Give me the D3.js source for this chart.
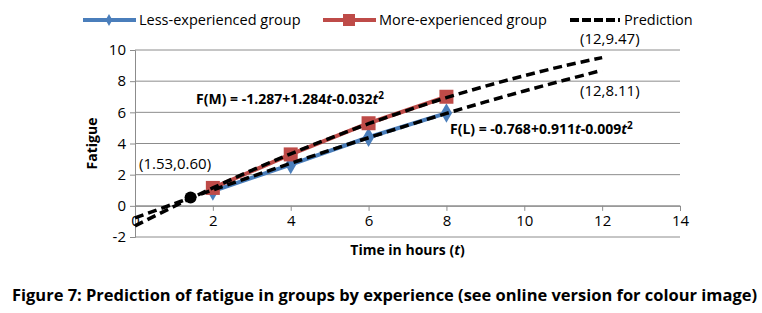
<!DOCTYPE html>
<html><head><meta charset="utf-8">
<script src="https://cdn.jsdelivr.net/npm/d3@7"></script>
<style>body{margin:0;background:#fff}svg{display:block}text{font-family:"Open Sans","DejaVu Sans",sans-serif}</style>
</head><body>
<script>
const hours = [2, 4, 6, 8];
const lessGroup = [0.95, 2.65, 4.4, 5.95];
const moreGroup = [1.15, 3.3, 5.3, 7.0];
const predHours = [0,1,2,3,4,5,6,7,8,9,10,11,12];
const predMore = [-1.29,-0.04,1.15,2.28,3.34,4.33,5.27,6.13,6.94,7.68,8.35,8.97,9.51];
const predLess = [-0.77,0.13,1.02,1.88,2.73,3.56,4.37,5.16,5.93,6.67,7.37,8.04,8.70];
const crossPoint = [1.53, 0.60];
const xTicks = [0,2,4,6,8,10,12,14];
const yTicks = [-2,0,2,4,6,8,10];
const legendLabels = ["Less-experienced group","More-experienced group","Prediction"];
const colors = {less:"#4a7ebb", more:"#be4b48"};

const W=762,H=313;
const svg=d3.select("body").append("svg").attr("width",W).attr("height",H);
const x=d3.scaleLinear().domain([0,14]).range([135,680]);
const y=d3.scaleLinear().domain([-2,10]).range([237,50]);

// gridlines
svg.append("g").selectAll("line").data(yTicks).join("line")
 .attr("x1",x(0)).attr("x2",x(14)).attr("y1",d=>y(d)).attr("y2",d=>y(d))
 .attr("stroke","#8c8c8c").attr("stroke-width",1);
// y axis
const ya=svg.append("g").attr("transform",`translate(${x(0)},0)`)
 .call(d3.axisLeft(y).tickValues(yTicks).tickSize(5).tickFormat(d=>String(d)));
ya.select(".domain").attr("stroke","#8c8c8c");
ya.selectAll(".tick line").attr("stroke","#8c8c8c");
ya.selectAll("text").attr("font-size",15).attr("fill","#000").attr("x",-9);
// x axis at y=0
const xa=svg.append("g").attr("transform",`translate(0,${y(0)})`)
 .call(d3.axisBottom(x).tickValues(xTicks).tickSize(5).tickFormat(d=>String(d)));
xa.select(".domain").attr("stroke","#8c8c8c");
xa.selectAll(".tick line").attr("stroke","#8c8c8c");
xa.selectAll("text").attr("font-size",15).attr("fill","#000").attr("dy","1em").attr("y",5);

// series lines
const line=d3.line().x(d=>x(d[0])).y(d=>y(d[1]));
svg.append("path").attr("d",line(hours.map((h,i)=>[h,lessGroup[i]])))
 .attr("fill","none").attr("stroke",colors.less).attr("stroke-width",4);
svg.append("path").attr("d",line(hours.map((h,i)=>[h,moreGroup[i]])))
 .attr("fill","none").attr("stroke",colors.more).attr("stroke-width",4);
// markers
svg.append("g").selectAll("path").data(hours.map((h,i)=>[h,lessGroup[i]])).join("path")
 .attr("d",d3.symbol(d3.symbolDiamond,110)).attr("transform",d=>`translate(${x(d[0])},${y(d[1])})`)
 .attr("fill",colors.less);
svg.append("g").selectAll("rect").data(hours.map((h,i)=>[h,moreGroup[i]])).join("rect")
 .attr("x",d=>x(d[0])-7).attr("y",d=>y(d[1])-7).attr("width",14).attr("height",14)
 .attr("fill",colors.more);
// prediction curves
const curve=d3.line().curve(d3.curveCatmullRom).x(d=>x(d[0])).y(d=>y(d[1]));
[predMore,predLess].forEach(arr=>{
 svg.append("path").attr("d",curve(predHours.map((h,i)=>[h,arr[i]])))
  .attr("fill","none").attr("stroke","#000").attr("stroke-width",3.5)
  .attr("stroke-dasharray","9,5");
});
svg.append("circle").attr("cx",x(crossPoint[0])-4).attr("cy",y(crossPoint[1])+1).attr("r",6).attr("fill","#000");

// annotations
const ann=svg.append("g").attr("font-size",15).attr("fill","#000");
ann.append("text").attr("x",139).attr("y",169).text(`(${crossPoint[0]},${crossPoint[1].toFixed(2)})`);
ann.append("text").attr("x",580).attr("y",44).text(`(12,9.47)`);
ann.append("text").attr("x",580).attr("y",96).text(`(12,8.11)`);
const fm=ann.append("text").attr("x",196).attr("y",104).attr("font-weight","bold").attr("font-size",14);
fm.append("tspan").text("F(M) = -1.287+1.284");
fm.append("tspan").attr("font-style","italic").text("t");
fm.append("tspan").text("-0.032");
fm.append("tspan").attr("font-style","italic").text("t");
fm.append("tspan").attr("dy",-5).attr("font-size",10).text("2");
const fl=ann.append("text").attr("x",450).attr("y",134).attr("font-weight","bold").attr("font-size",14);
fl.append("tspan").text("F(L) = -0.768+0.911");
fl.append("tspan").attr("font-style","italic").text("t");
fl.append("tspan").text("-0.009");
fl.append("tspan").attr("font-style","italic").text("t");
fl.append("tspan").attr("dy",-5).attr("font-size",10).text("2");

// axis titles
svg.append("text").attr("transform",`translate(97,${(y(-2)+y(10))/2}) rotate(-90)`)
 .attr("text-anchor","middle").attr("font-size",14).attr("font-weight","bold").text("Fatigue");
const xt=svg.append("text").attr("x",(x(0)+x(14))/2).attr("y",255).attr("text-anchor","middle")
 .attr("font-size",14).attr("font-weight","bold");
xt.append("tspan").text("Time in hours (");
xt.append("tspan").attr("font-style","italic").text("t");
xt.append("tspan").text(")");

// legend
const lg=svg.append("g").attr("font-size",14.5);
lg.append("line").attr("x1",83).attr("x2",136).attr("y1",20).attr("y2",20).attr("stroke",colors.less).attr("stroke-width",4);
lg.append("path").attr("d",d3.symbol(d3.symbolDiamond,40)).attr("transform","translate(109,20)").attr("fill",colors.less);
lg.append("text").attr("x",139).attr("y",25).text(legendLabels[0]);
lg.append("line").attr("x1",323).attr("x2",376).attr("y1",20).attr("y2",20).attr("stroke",colors.more).attr("stroke-width",4);
lg.append("rect").attr("x",343).attr("y",14).attr("width",12).attr("height",12).attr("fill",colors.more);
lg.append("text").attr("x",379).attr("y",25).text(legendLabels[1]);
lg.append("line").attr("x1",570).attr("x2",620).attr("y1",20).attr("y2",20).attr("stroke","#000").attr("stroke-width",4).attr("stroke-dasharray","9,3");
lg.append("text").attr("x",624).attr("y",25).text(legendLabels[2]);

// caption
svg.append("text").attr("x",12).attr("y",301).attr("font-size",16).attr("font-weight","bold")
 .attr("font-family","'Open Sans',sans-serif").attr("textLength",745).attr("lengthAdjust","spacingAndGlyphs")
 .text("Figure 7: Prediction of fatigue in groups by experience (see online version for colour image)");
</script>
</body></html>
